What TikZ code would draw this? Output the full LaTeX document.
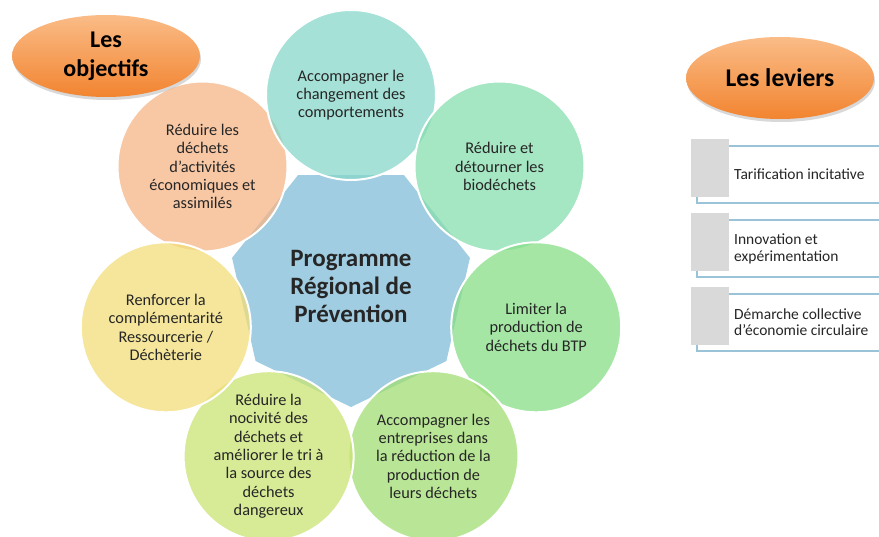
\documentclass[tikz,border=0pt]{standalone}
\usepackage{fontspec}
\setmainfont{Carlito}
\usetikzlibrary{shapes.geometric,shadows}
\definecolor{txt}{RGB}{38,38,38}
\definecolor{progblue}{RGB}{160,205,225}
\definecolor{cTop}{RGB}{135,215,202}
\definecolor{cUR}{RGB}{135,222,175}
\definecolor{cR}{RGB}{135,222,135}
\definecolor{cLR}{RGB}{162,222,115}
\definecolor{cLL}{RGB}{202,228,115}
\definecolor{cL}{RGB}{242,222,122}
\definecolor{cUL}{RGB}{246,182,135}
\definecolor{orTop}{RGB}{250,188,135}
\definecolor{orBot}{RGB}{242,132,48}
\definecolor{levline}{RGB}{155,195,215}
\definecolor{levgray}{RGB}{217,217,217}
\begin{document}
\begin{tikzpicture}[x=1pt,y=-1pt,
  objc/.style={circle, minimum size=170pt, inner sep=0pt, draw=white, line width=2pt,
    fill opacity=0.75, text opacity=1, align=center, text=txt,
    font=\fontsize{16.3}{18.3}\selectfont},
  titleell/.style={ellipse, minimum width=188pt, minimum height=82pt, inner sep=0pt,
    top color=orTop, bottom color=orBot, draw=none, align=center, text=black,
    drop shadow={opacity=0.25, shadow xshift=1pt, shadow yshift=-3pt, fill=black!60}},
  levtxt/.style={anchor=west, align=left, text=txt, inner sep=0pt,
    font=\fontsize{15.5}{16.5}\selectfont},
  levrule/.style={draw=levline, line width=1.1pt, fill=white},
  levsq/.style={fill=levgray, draw=none}
]
\fill[white] (0,0) rectangle (879,537);
\useasboundingbox (0,0) rectangle (879,537);

% centre
\node[regular polygon, regular polygon sides=7, minimum size=244pt, inner sep=0pt,
  shape border rotate=180, fill=progblue, draw=none] (prog) at (351,285) {};

% objectives circles
\node[objc, fill=cUL] (ul) at (202.5,166.5) {Réduire les\\déchets\\d’activités\\économiques et\\assimilés};
\node[objc, fill=cTop] (top) at (351,95) {Accompagner le\\changement des\\comportements};
\node[objc, fill=cUR] (ur) at (499.5,166.5) {Réduire et\\détourner les\\biodéchets};
\node[objc, fill=cR] (r) at (536.2,327.3) {Limiter la\\production de\\déchets du BTP};
\node[objc, fill=cLR] (lr) at (433.4,456.2) {Accompagner les\\entreprises dans\\la réduction de la\\production de\\leurs déchets};
\node[objc, fill=cLL] (ll) at (268.6,456.2) {Réduire la\\nocivité des\\déchets et\\améliorer le tri à\\la source des\\déchets\\dangereux};
\node[objc, fill=cL] (l) at (165.8,327.3) {Renforcer la\\complémentarité\\Ressourcerie /\\Déchèterie};

\node[align=center, text=txt, font=\fontsize{25}{28}\selectfont\bfseries] (progtxt) at (351,286) {Programme\\Régional de\\Prévention};

% titles
\node[titleell, font=\fontsize{24}{30}\selectfont\bfseries] (obj) at (106,56) {Les\\[-1pt]objectifs};
\node[titleell, font=\fontsize{25.5}{30}\selectfont\bfseries] (lev) at (780,78) {Les leviers};

% leviers list
\foreach \t in {139,213,287}{
  \draw[levrule] (697,\t+7) rectangle (890,\t+64);
  \fill[levsq] (691,\t) rectangle (729,\t+58);
}
\node[levtxt] (la) at (734,174) {Tarification incitative};
\node[levtxt] (lb) at (734,249) {Innovation et\\expérimentation};
\node[levtxt] (lc) at (734,322) {Démarche collective\\d’économie circulaire};
\end{tikzpicture}
\end{document}
